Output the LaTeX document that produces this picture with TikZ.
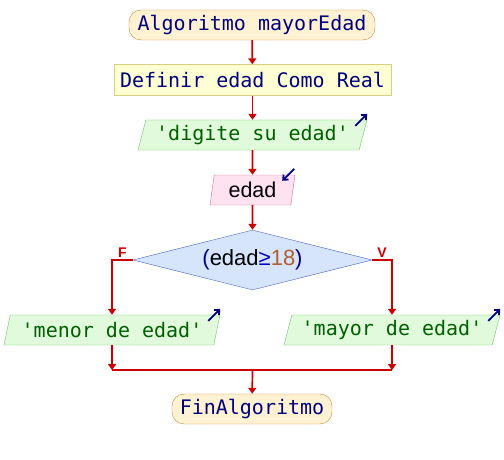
\documentclass[tikz,border=0pt]{standalone}
\usepackage{fontspec}
\setmainfont{Liberation Sans}
\newfontfamily\codefont{DejaVu Sans Mono}
\usetikzlibrary{shapes.geometric,arrows.meta}
\definecolor{flujo}{HTML}{CC0000}
\definecolor{azul}{HTML}{000080}
\definecolor{verde}{HTML}{006000}
\definecolor{numero}{HTML}{B06030}
\definecolor{termborde}{HTML}{C8883C}
\definecolor{termfondo}{HTML}{FFF2D2}
\definecolor{defborde}{HTML}{D8D080}
\definecolor{deffondo}{HTML}{FFFFD4}
\definecolor{salborde}{HTML}{6CC46C}
\definecolor{salfondo}{HTML}{E2FADC}
\definecolor{entborde}{HTML}{C86E96}
\definecolor{entfondo}{HTML}{FFE2F0}
\definecolor{condborde}{HTML}{4A6AC8}
\definecolor{condfondo}{HTML}{D6E4FC}
\begin{document}
\begin{tikzpicture}[x=1pt,y=-1pt,
    flow/.style={draw=flujo,line width=1.7pt,-{Triangle[width=8pt,length=6pt]}},
    linea/.style={draw=flujo,line width=1.7pt},
    term/.style={draw=termborde,fill=termfondo,rounded corners=12pt,
      minimum width=246pt,minimum height=30pt,inner sep=0,
      font=\codefont\fontsize{20}{22}\selectfont,text=azul},
    defbox/.style={draw=defborde,fill=deffondo,minimum width=277pt,
      minimum height=31pt,inner sep=0,font=\codefont\fontsize{20}{22}\selectfont,text=azul},
    salida/.style={trapezium,trapezium left angle=68,trapezium right angle=112,
      trapezium stretches body,draw=salborde,fill=salfondo,minimum height=30pt,
      inner sep=0,font=\codefont\fontsize{20}{22}\selectfont,text=verde},
    entrada/.style={trapezium,trapezium left angle=75,trapezium right angle=105,
      trapezium stretches body,draw=entborde,fill=entfondo,minimum height=30pt,
      inner sep=0,font=\fontsize{21.5}{23}\selectfont},
    cond/.style={diamond,aspect=4,draw=condborde,fill=condfondo,
      minimum width=239pt,minimum height=60pt,inner sep=0,
      font=\fontsize{22}{24}\selectfont},
    lbl/.style={text=flujo,font=\bfseries\fontsize{14}{15}\selectfont,inner sep=1.5pt},
    icono/.style={draw=azul,line width=1.8pt,-{Straight Barb[width=7pt,length=4pt]}}]
  \useasboundingbox (0,0) rectangle (504,460);
  % nodes
  \node[term] (inicio) at (252,25) {Algoritmo mayorEdad};
  \node[defbox] (definir) at (252.5,80) {Definir edad Como Real};
  \node[salida,minimum width=229pt] (digite) at (252.5,135) {'digite su edad'};
  \node[entrada,minimum width=85pt] (leer) at (252.5,190) {edad};
  \node[cond] (si) at (252.5,260)
    {\textcolor{azul}{(}edad\textcolor{blue!80!black}{≥}\textcolor{numero}{18}\textcolor{azul}{)}};
  \node[salida,minimum width=216pt] (menor) at (112,330) {'menor de edad'};
  \node[salida,minimum width=216pt] (mayor) at (392,330) {'mayor de edad'};
  \node[term,minimum width=160pt] (fin) at (252,409) {FinAlgoritmo};
  \coordinate (union) at (252.5,370);
  % flow
  \draw[flow] (inicio) -- (definir);
  \draw[flow] (definir) -- (digite);
  \draw[flow] (digite) -- (leer);
  \draw[flow] (leer) -- (si);
  \draw[flow] (si.west) -| node[lbl,pos=0.25,above]{F} (menor.north);
  \draw[flow] (si.east) -| node[lbl,pos=0.25,above]{V} (mayor.north);
  \draw[flow] (menor.south) -- (menor.south |- union);
  \draw[flow] (mayor.south) -- (mayor.south |- union);
  \draw[linea] (menor.south |- union) -- (mayor.south |- union);
  \draw[flow] (union) -- (fin);
  % in/out icons
  \draw[icono] ([shift={(-12,6)}]digite.top right corner) -- ++(12,-12);
  \draw[icono] ([shift={(-12,6)}]menor.top right corner) -- ++(12,-12);
  \draw[icono] ([shift={(-12,6)}]mayor.top right corner) -- ++(12,-12);
  \draw[icono] ([shift={(-1,-6)}]leer.top right corner) -- ++(-12,12);
\end{tikzpicture}
\end{document}
